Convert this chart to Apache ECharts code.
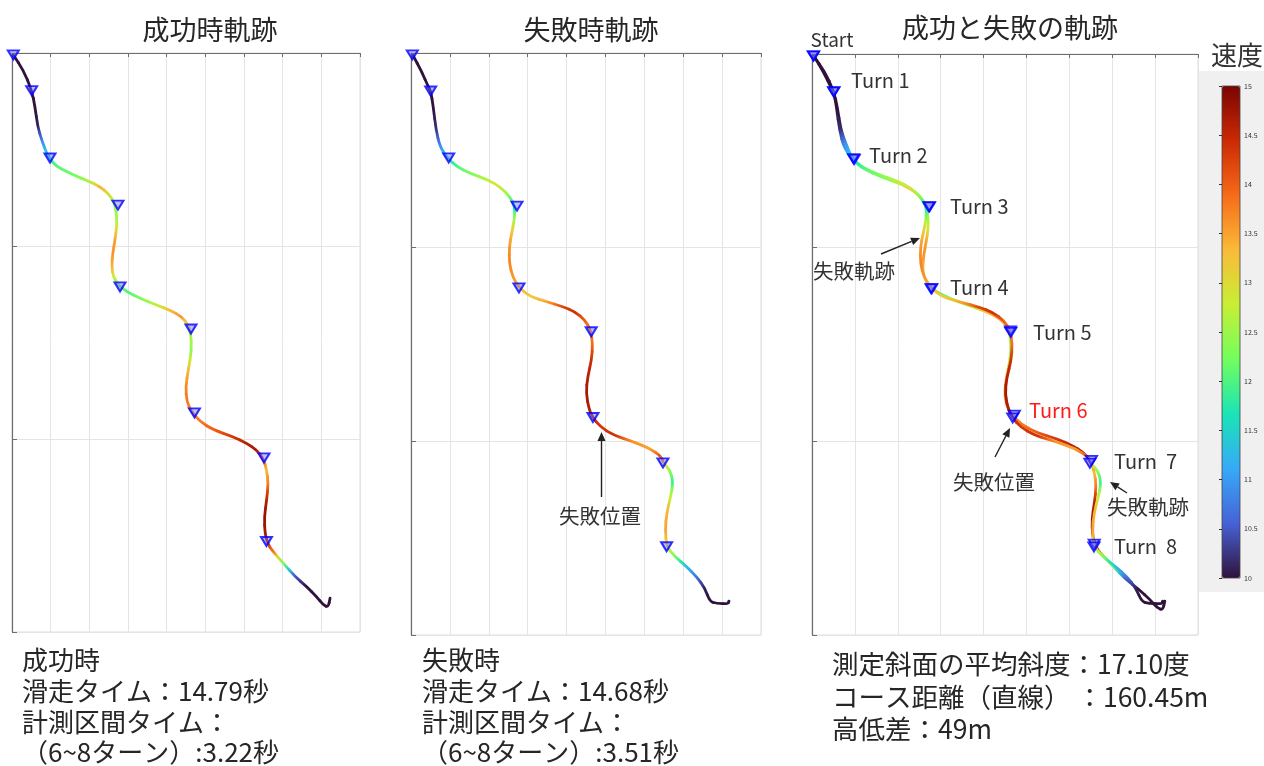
<!DOCTYPE html>
<html>
<head>
<meta charset="utf-8">
<script src="https://cdn.jsdelivr.net/npm/echarts@6.0.0/dist/echarts.min.js"></script>
<style>
  html, body { margin: 0; padding: 0; background: #fff; }
  #chart { width: 1264px; height: 766px; }
</style>
</head>
<body>
<div id="chart"></div>
<script>
// track of the successful run (course units: x 0..9, y 0..3 downhill)
const successX = [0.034, 0.292, 0.509, 0.595, 0.665, 0.768, 0.897, 0.983, 1.068, 1.241,
  1.585, 2.017, 2.276, 2.490, 2.664, 2.708, 2.708, 2.664, 2.604, 2.578,
  2.620, 2.749, 2.966, 3.310, 3.742, 4.086, 4.388, 4.559, 4.621, 4.647,
  4.559, 4.492, 4.518, 4.647, 4.862, 5.206, 5.723, 6.069, 6.328, 6.499,
  6.587, 6.628, 6.587, 6.524, 6.543, 6.607, 6.716, 7.016, 7.318, 7.621,
  7.880, 8.050, 8.180, 8.225]
const successY = [0.010, 0.088, 0.192, 0.278, 0.382, 0.451, 0.520, 0.546, 0.572, 0.597,
  0.632, 0.667, 0.693, 0.727, 0.779, 0.848, 0.900, 0.969, 1.038, 1.107,
  1.159, 1.202, 1.237, 1.271, 1.306, 1.332, 1.366, 1.409, 1.451, 1.539,
  1.642, 1.729, 1.807, 1.859, 1.910, 1.953, 1.988, 2.022, 2.057, 2.100,
  2.161, 2.230, 2.316, 2.403, 2.489, 2.539, 2.575, 2.644, 2.713, 2.765,
  2.817, 2.860, 2.872, 2.825]
const successSpeed = [10, 10, 10, 10, 10.1, 10.8, 11.4, 11.7, 12.0, 12.1,
  12.2, 12.6, 13.4, 13.0, 12.4, 12.5, 12.9, 13.5, 13.6, 13.4,
  12.8, 12.3, 12.0, 12.3, 12.7, 13.3, 13.6, 13.0, 12.6, 12.4,
  13.3, 13.7, 13.8, 13.7, 13.8, 14.0, 14.3, 14.6, 14.7, 14.0,
  13.3, 13.8, 14.6, 14.8, 14.7, 14.5, 13.8, 12.3, 10.5, 10,
  10, 10, 10, 10]

// track of the failed run
const failX = [0.044, 0.275, 0.445, 0.506, 0.573, 0.643, 0.746, 0.918, 0.969, 1.175,
  1.517, 1.987, 2.288, 2.545, 2.674, 2.656, 2.589, 2.527, 2.527, 2.614,
  2.758, 3.059, 3.488, 3.915, 4.216, 4.473, 4.620, 4.671, 4.645, 4.542,
  4.499, 4.584, 4.671, 4.859, 5.201, 5.715, 6.144, 6.445, 6.486, 6.658,
  6.743, 6.676, 6.573, 6.537, 6.573, 6.787, 7.087, 7.344, 7.558, 7.686,
  7.859, 8.157, 8.175]
const failY = [0.010, 0.096, 0.174, 0.194, 0.277, 0.397, 0.483, 0.535, 0.546, 0.586,
  0.620, 0.655, 0.689, 0.741, 0.792, 0.861, 0.929, 0.998, 1.084, 1.153,
  1.205, 1.256, 1.282, 1.308, 1.334, 1.376, 1.428, 1.496, 1.582, 1.669,
  1.754, 1.840, 1.878, 1.926, 1.969, 2.004, 2.038, 2.081, 2.115, 2.149,
  2.210, 2.287, 2.373, 2.459, 2.545, 2.596, 2.648, 2.699, 2.759, 2.828,
  2.837, 2.840, 2.825]
const failSpeed = [10, 10, 10, 10, 10, 10.2, 10.9, 11.4, 11.6, 12.0,
  12.3, 12.7, 12.9, 12.3, 11.6, 12.6, 13.3, 13.6, 13.7, 13.6,
  13.4, 13.1, 13.5, 14.2, 14.4, 14.0, 13.7, 13.9, 14.4, 14.6,
  14.7, 14.6, 14.5, 14.3, 14.4, 13.6, 13.5, 14.1, 13.3, 12.4,
  11.9, 12.8, 13.4, 13.5, 13.0, 12.2, 11.3, 10.7, 10.1, 10,
  10, 10, 10]

// turn gates (Start, Turn 1..8)
const turnNames = ['Start', 'Turn 1', 'Turn 2', 'Turn 3', 'Turn 4', 'Turn 5', 'Turn 6', 'Turn  7', 'Turn  8']
const successTurnX = [0.034, 0.509, 0.983, 2.741, 2.793, 4.629, 4.719, 6.517, 6.581]
const successTurnY = [0.010, 0.195, 0.544, 0.788, 1.212, 1.430, 1.865, 2.098, 2.531]
const failTurnX = [0.034, 0.506, 0.969, 2.725, 2.776, 4.635, 4.679, 6.478, 6.573]
const failTurnY = [0.010, 0.196, 0.541, 0.789, 1.211, 1.437, 1.879, 2.113, 2.545]

const speedMin = 10
const speedMax = 15
const turbo = ['#30123b', '#4662d7', '#36aaf9', '#1ae4b6', '#72fe5e', '#c8ef34', '#faba39', '#f66b19', '#cb2a04', '#7a0403']

const FONT = '"Noto Sans CJK JP", "Noto Sans", sans-serif'
const chart = echarts.init(document.getElementById('chart'), null, { renderer: 'canvas' })

function speedColor (v) {
  return echarts.color.lerp((v - speedMin) / (speedMax - speedMin), turbo)
}

function segments (xs, ys, sp) {
  return xs.map((x, i) => {
    const p = Math.max(i - 1, 0)
    const n = Math.min(i + 1, xs.length - 1)
    return [xs[p], ys[p], x, ys[i], xs[n], ys[n], sp[i], sp[p], sp[n]]
  })
}

function renderTrack (params, api) {
  const p0 = api.coord([api.value(0), api.value(1)])
  const p1 = api.coord([api.value(2), api.value(3)])
  const p2 = api.coord([api.value(4), api.value(5)])
  const s = api.value(6)
  const a = [(p0[0] + p1[0]) / 2, (p0[1] + p1[1]) / 2]
  const b = [(p1[0] + p2[0]) / 2, (p1[1] + p2[1]) / 2]
  const same = Math.abs(a[0] - b[0]) + Math.abs(a[1] - b[1]) < 0.01
  const stroke = same ? api.visual('color') : {
    type: 'linear', global: true, x: a[0], y: a[1], x2: b[0], y2: b[1],
    colorStops: [
      { offset: 0, color: speedColor((s + api.value(7)) / 2) },
      { offset: 0.5, color: api.visual('color') },
      { offset: 1, color: speedColor((s + api.value(8)) / 2) }
    ]
  }
  return {
    type: 'bezierCurve',
    shape: { x1: a[0], y1: a[1], x2: b[0], y2: b[1], cpx1: p1[0], cpy1: p1[1] },
    style: { stroke, lineWidth: 2.8, fill: null, lineCap: 'round' }
  }
}

function trackSeries (idx, xs, ys, sp) {
  return {
    type: 'custom',
    xAxisIndex: idx,
    yAxisIndex: idx,
    renderItem: renderTrack,
    encode: { x: [0, 2, 4], y: [1, 3, 5] },
    data: segments(xs, ys, sp),
    clip: true,
    z: 3
  }
}

function turnSeries (idx, xs, ys) {
  return {
    type: 'scatter',
    xAxisIndex: idx,
    yAxisIndex: idx,
    symbol: 'triangle',
    symbolRotate: 180,
    symbolSize: [11, 9],
    itemStyle: { color: 'rgba(110,110,255,0.55)', borderColor: '#0000ff', borderWidth: 2 },
    data: xs.map((x, i) => [x, ys[i]]),
    z: 5
  }
}

const panels = [
  { left: 12, top: 53, width: 348, height: 579 },
  { left: 411, top: 53, width: 350, height: 582 },
  { left: 812, top: 54, width: 386, height: 581 }
]

const grids = panels.map(p => Object.assign({ show: true, borderColor: '#dcdcdc', borderWidth: 1 }, p))
grids.push({ left: 1222, top: 86, width: 18, height: 492 })

const xAxes = panels.map((p, i) => ({
  gridIndex: i, type: 'value', min: 0, max: 9, interval: 1, position: 'top',
  axisLine: { show: true, lineStyle: { color: '#6e6e6e', width: 1.2 } },
  axisTick: { show: true, inside: true, length: 4, lineStyle: { color: '#6e6e6e' } },
  axisLabel: { show: false },
  splitLine: { show: true, lineStyle: { color: '#e4e4e4' } }
}))
xAxes.push({ gridIndex: 3, type: 'value', show: false })

const yAxes = panels.map((p, i) => ({
  gridIndex: i, type: 'value', min: 0, max: 3, interval: 1, inverse: true,
  axisLine: { show: true, lineStyle: { color: '#6e6e6e', width: 1.2 } },
  axisTick: { show: true, inside: true, length: 5, lineStyle: { color: '#6e6e6e' } },
  axisLabel: { show: false },
  splitLine: { show: true, lineStyle: { color: '#e4e4e4' } }
}))
yAxes.push({
  gridIndex: 3, type: 'value', min: speedMin, max: speedMax, interval: 0.5, position: 'right', z: 30,
  axisLine: { show: false },
  axisTick: { show: true, inside: true, length: 3, lineStyle: { color: '#333' } },
  axisLabel: { fontSize: 7, color: '#333', margin: 4, fontFamily: FONT },
  splitLine: { show: false }
})

function txt (x, y, text, size, color, align) {
  return {
    type: 'text', z: 20,
    style: {
      x, y, text, fill: color || '#333',
      font: size + 'px ' + FONT,
      textAlign: align || 'left', textVerticalAlign: 'middle',
      align: align || 'left', verticalAlign: 'middle'
    }
  }
}

function arrow (x1, y1, x2, y2) {
  const a = Math.atan2(y2 - y1, x2 - x1)
  const L = 9
  const W = 4
  const bx = x2 - L * Math.cos(a)
  const by = y2 - L * Math.sin(a)
  return [
    { type: 'line', z: 20, shape: { x1, y1, x2: bx, y2: by }, style: { stroke: '#222', lineWidth: 1.4 } },
    {
      type: 'polygon', z: 20,
      shape: { points: [[x2, y2], [bx - W * Math.sin(a), by + W * Math.cos(a)], [bx + W * Math.sin(a), by - W * Math.cos(a)]] },
      style: { fill: '#222' }
    }
  ]
}

const turnLabelPos = [[832, 40], [851, 80], [869, 155], [950, 206], [950, 287], [1033, 332], [1029, 410], [1114, 461], [1114, 546]]

const graphics = [
  { type: 'rect', z: -10, shape: { x: 1198, y: 71, width: 66, height: 521 }, style: { fill: '#f0f0f0' } },
  { type: 'rect', z: 20, shape: { x: 1222, y: 86, width: 18, height: 492 }, style: { fill: null, stroke: '#444', lineWidth: 0.8 } },
  txt(1211, 55, '速度', 26, '#333'),
  // info texts under the panels
  txt(22, 660, '成功時', 26, '#262626'),
  txt(22, 691, '滑走タイム：14.79秒', 26, '#262626'),
  txt(22, 722, '計測区間タイム：', 26, '#262626'),
  txt(22, 752, '（6~8ターン）:3.22秒', 26, '#262626'),
  txt(422, 660, '失敗時', 26, '#262626'),
  txt(422, 691, '滑走タイム：14.68秒', 26, '#262626'),
  txt(422, 722, '計測区間タイム：', 26, '#262626'),
  txt(422, 752, '（6~8ターン）:3.51秒', 26, '#262626'),
  txt(832, 664, '測定斜面の平均斜度：17.10度', 26.5, '#262626'),
  txt(832, 697, 'コース距離（直線） ：160.45m', 26.5, '#262626'),
  txt(832, 729, '高低差：49m', 26.5, '#262626'),
  // annotations
  txt(600, 516, '失敗位置', 20.5, '#333', 'center'),
  txt(854, 271, '失敗軌跡', 20.5, '#333', 'center'),
  txt(994, 482, '失敗位置', 20.5, '#333', 'center'),
  txt(1148, 507, '失敗軌跡', 20.5, '#333', 'center'),
  ...arrow(601.5, 497, 601.5, 432),
  ...arrow(881, 254, 920, 238),
  ...arrow(995, 457, 1010, 428),
  ...arrow(1127, 493, 1110, 482)
]
turnNames.forEach((name, i) => {
  const pos = turnLabelPos[i]
  if (i === 0) graphics.push(txt(pos[0], pos[1], name, 19, '#333', 'center'))
  else graphics.push(txt(pos[0], pos[1], name, 20, i === 6 ? '#ff1a1a' : '#333'))
})

const titleStyle = { fontSize: 27, fontWeight: 'normal', color: '#262626', fontFamily: FONT }

const option = {
  animation: false,
  backgroundColor: '#fff',
  title: [
    { text: '成功時軌跡', left: 205, top: 11, textAlign: 'center', textStyle: titleStyle },
    { text: '失敗時軌跡', left: 586, top: 11, textAlign: 'center', textStyle: titleStyle },
    { text: '成功と失敗の軌跡', left: 1005, top: 9, textAlign: 'center', textStyle: titleStyle }
  ],
  grid: grids,
  xAxis: xAxes,
  yAxis: yAxes,
  visualMap: {
    type: 'continuous',
    min: speedMin,
    max: speedMax,
    dimension: 6,
    seriesIndex: [0, 1, 2, 3],
    orient: 'vertical',
    left: 1222,
    top: 86,
    padding: 0,
    itemWidth: 18,
    itemHeight: 492,
    text: null,
    calculable: false,
    hoverLink: false,
    inRange: { color: turbo },
    z: 4
  },
  graphic: graphics,
  series: [
    trackSeries(0, successX, successY, successSpeed),
    trackSeries(1, failX, failY, failSpeed),
    trackSeries(2, successX, successY, successSpeed),
    trackSeries(2, failX, failY, failSpeed),
    turnSeries(0, successTurnX, successTurnY),
    turnSeries(1, failTurnX, failTurnY),
    turnSeries(2, successTurnX, successTurnY),
    turnSeries(2, failTurnX, failTurnY)
  ]
}

chart.setOption(option)
window.addEventListener('resize', chart.resize)
</script>
</body>
</html>
